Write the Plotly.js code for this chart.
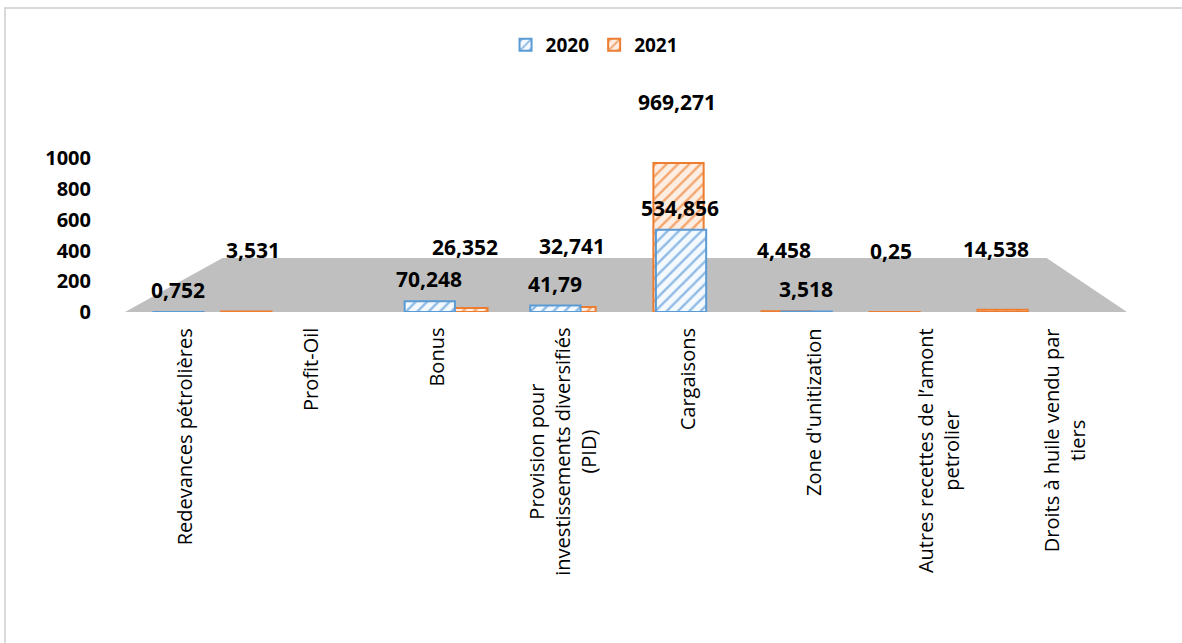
<!DOCTYPE html>
<html>
<head>
<meta charset="utf-8">
<script src="https://cdn.plot.ly/plotly-3.0.1.min.js"></script>
<style>
  html, body { margin: 0; padding: 0; background: #ffffff; }
  #wrap { position: relative; width: 1182px; height: 643px; overflow: hidden; }
  #chart { position: absolute; left: 0; top: 0; width: 1182px; height: 643px; }
  #frame { position: absolute; left: 4px; top: 7px; width: 1178px; height: 636px;
           border-top: 2px solid #d9d9d9; border-left: 2px solid #d9d9d9; pointer-events: none; }
</style>
</head>
<body>
<div id="wrap"><div id="chart"></div><div id="frame"></div></div>
<script>
// ---- Data ----
const categories = [
  "Redevances pétrolières",
  "Profit-Oil",
  "Bonus",
  "Provision pour investissements diversifiés (PID)",
  "Cargaisons",
  "Zone d'unitization",
  "Autres recettes de l’amont petrolier",
  "Droits à huile vendu par tiers"
];
const categoryLabels = [
  "Redevances pétrolières",
  "Profit-Oil",
  "Bonus",
  "Provision pour<br>investissements diversifiés<br>(PID)",
  "Cargaisons",
  "Zone d'unitization",
  "Autres recettes de l’amont<br>petrolier",
  "Droits à huile vendu par<br>tiers"
];
const values2020 = [0.752, null, 70.248, 41.79, 534.856, 3.518, null, null];
const values2021 = [3.531, null, 26.352, 32.741, 969.271, 4.458, 0.25, 14.538];
const yTicks = [0, 200, 400, 600, 800, 1000];

const fmt = v => String(v).replace('.', ',');

// pseudo-perspective: the back row (2021) drifts toward the centre
const BAR_W = 0.4;
const persp = i => (3.5 - i) * 0.14;          // in category units
const offs2021 = categories.map((c, i) => persp(i) - BAR_W / 2);
const offs2020 = categories.map(() => -0.05 - BAR_W / 2);
const PX_PER_CAT = 1005 / 8;

const FONT = 'Open Sans, sans-serif';

const trace2021 = {
  type: 'bar', name: '2021', x: categories, y: values2021,
  width: BAR_W, offset: offs2021,
  marker: {
    color: '#fde4d2',
    line: { color: '#ed7d31', width: 2 },
    pattern: { shape: '/', fgcolor: '#f4a66e', bgcolor: '#fdeee3', size: 8, solidity: 0.3 }
  },
  hoverinfo: 'x+y'
};
const trace2020 = {
  type: 'bar', name: '2020', x: categories, y: values2020,
  width: BAR_W, offset: offs2020,
  marker: {
    color: '#e6f0fa',
    line: { color: '#5b9bd5', width: 2 },
    pattern: { shape: '/', fgcolor: '#8fbbe6', bgcolor: '#f4f9fe', size: 8, solidity: 0.3 }
  },
  hoverinfo: 'x+y'
};

const annotations = [];
categories.forEach((c, i) => {
  annotations.push({
    x: c, xref: 'x', y: 0, yref: 'paper', yanchor: 'top', xanchor: 'center',
    yshift: -14, text: categoryLabels[i], textangle: -90, align: 'center',
    showarrow: false, font: { family: FONT, size: 20, color: '#000000' }
  });
  if (values2020[i] !== null) {
    annotations.push({
      x: c, xref: 'x', y: values2020[i], yref: 'y', yanchor: 'bottom', xanchor: 'center',
      yshift: 6, xshift: -7, text: fmt(values2020[i]), showarrow: false,
      font: { family: FONT, size: 21, color: '#000000', weight: 'bold' }
    });
  }
  if (values2021[i] !== null) {
    annotations.push({
      x: c, xref: 'x', y: values2021[i], yref: 'y', yanchor: 'bottom', xanchor: 'center',
      yshift: 45, xshift: Math.round(persp(i) * PX_PER_CAT * 1.1),
      text: fmt(values2021[i]), showarrow: false,
      font: { family: FONT, size: 21, color: '#000000', weight: 'bold' }
    });
  }
});

const layout = {
  width: 1182, height: 643,
  margin: { l: 122, r: 55, t: 143, b: 331 },
  paper_bgcolor: 'rgba(0,0,0,0)', plot_bgcolor: 'rgba(0,0,0,0)',
  barmode: 'overlay',
  showlegend: true,
  legend: {
    orientation: 'h', xref: 'container', yref: 'container',
    x: 0.503, xanchor: 'center', y: 0.93, yanchor: 'middle',
    traceorder: 'reversed',
    font: { family: FONT, size: 19, color: '#000000', weight: 'bold' },
    itemwidth: 30
  },
  xaxis: {
    type: 'category', showticklabels: false, showline: false, showgrid: false,
    zeroline: false, ticks: '', range: [-0.5, 7.5]
  },
  yaxis: {
    range: [0, 1100], tickvals: yTicks, ticktext: yTicks.map(String),
    showgrid: false, zeroline: false, showline: false,
    ticks: 'outside', ticklen: 26, tickcolor: 'rgba(0,0,0,0)',
    tickfont: { family: FONT, size: 20, color: '#000000', weight: 'bold' }
  },
  shapes: [{
    type: 'path', xref: 'paper', yref: 'paper', layer: 'below',
    path: 'M 0.003,0 L 0.1,0.319 L 0.92,0.319 L 1,0 Z',
    fillcolor: '#bfbfbf', line: { width: 0 }
  }],
  annotations: annotations
};

Plotly.newPlot('chart', [trace2021, trace2020], layout, { displayModeBar: false, staticPlot: true });
</script>
</body>
</html>
